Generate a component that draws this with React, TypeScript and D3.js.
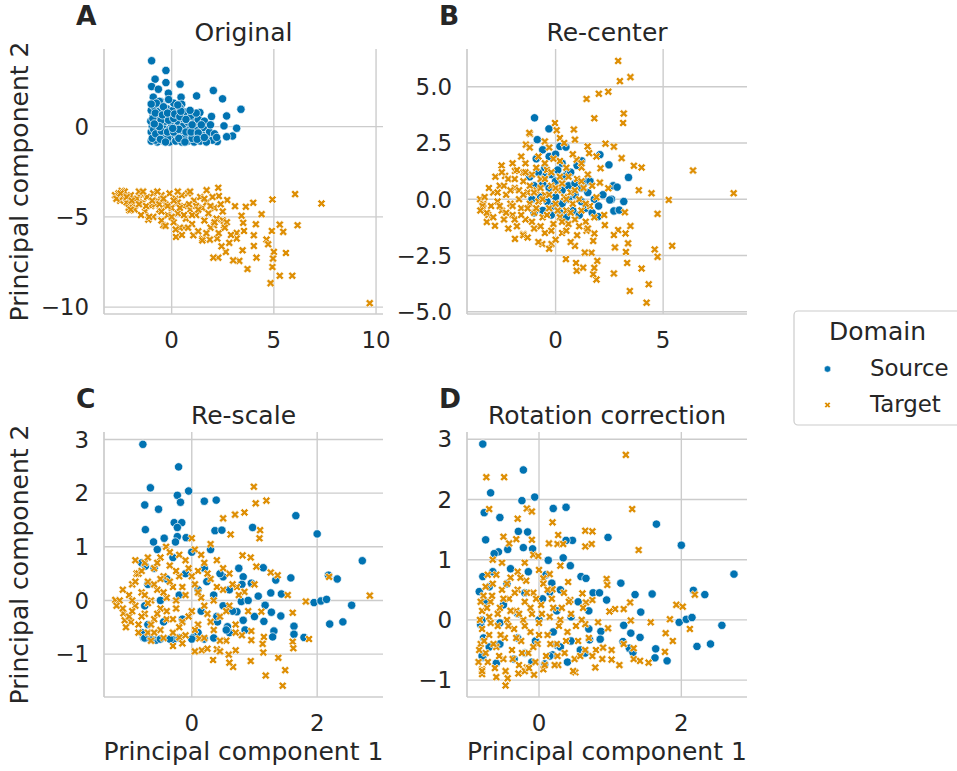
import React from "react";
import * as d3 from "d3";

type Pt = [number, number];

// ---------------- DATA ----------------
const domains = ["Source", "Target"];
const panelTitles = ["Original", "Re-center", "Re-scale", "Rotation correction"];
const panelLetters = ["A", "B", "C", "D"];
const xLabel = "Principal component 1";
const yLabel = "Principal component 2";

const ticksA_x = [0, 5, 10];
const ticksA_y = [-10, -5, 0];
const ticksB_x = [0, 5];
const ticksB_y = [-5, -2.5, 0, 2.5, 5];
const ticksC_x = [0, 2];
const ticksC_y = [-1, 0, 1, 2, 3];
const ticksD_x = [0, 2];
const ticksD_y = [-1, 0, 1, 2, 3];

const originalSource: Pt[] = [
  [-0.98, 3.65], [-0.28, 3.11], [-0.81, 2.63], [-0.28, 2.44], [0.41, 2.35], [-0.98, 2.22], [-0.65, 2.07],
  [-0.16, 1.85], [1.22, 1.7], [2.04, 2.0], [2.49, 1.54], [0.46, 1.63], [-0.9, 1.63], [-0.54, 1.39],
  [0.49, 1.24], [3.39, 0.96], [1.38, 0.78], [1.95, 0.56], [2.69, 0.59], [3.18, -0.09], [2.98, -0.52],
  [2.69, -0.56], [2.56, 0.04], [2.23, -0.83], [2.04, -0.7],
  [-1.0, -0.8], [-0.9, -0.6], [-1.0, -0.3], [-0.95, 0.0], [-1.02, 0.3], [-0.9, 0.6], [-1.0, 0.9], [-0.85, 1.1],
  [-0.7, -0.85], [-0.6, -0.5], [-0.7, -0.2], [-0.65, 0.2], [-0.7, 0.5], [-0.6, 0.85], [-0.5, 1.2],
  [-0.4, -0.8], [-0.35, -0.45], [-0.4, -0.1], [-0.3, 0.3], [-0.35, 0.7], [-0.25, 1.0], [-0.1, -0.85],
  [-0.05, -0.5], [-0.1, -0.15], [0.0, 0.15], [-0.05, 0.55], [0.05, 0.9], [0.2, -0.8], [0.25, -0.4],
  [0.2, -0.05], [0.3, 0.3], [0.25, 0.65], [0.4, 1.05], [0.5, -0.85], [0.55, -0.5], [0.5, -0.2], [0.6, 0.1],
  [0.55, 0.45], [0.7, 0.8], [0.8, -0.8], [0.85, -0.45], [0.9, -0.1], [0.8, 0.25], [0.95, 0.55], [1.1, -0.85],
  [1.15, -0.5], [1.2, -0.15], [1.1, 0.2], [1.3, 0.4], [1.4, -0.8], [1.5, -0.45], [1.55, -0.05], [1.6, 0.3],
  [1.75, -0.7], [1.85, -0.3], [1.9, 0.1], [2.0, -0.75], [2.1, -0.4], [1.2, 0.75], [0.1, 1.3], [-0.6, 1.4],
  [-0.15, 1.5], [0.6, -0.65], [-0.8, -0.75], [-0.2, -0.65], [0.35, -0.65], [1.0, -0.65], [1.7, -0.85],
  [-0.95, -0.65], [-0.88, -0.15], [-0.92, 0.45], [-0.8, 0.75], [-0.75, 1.3], [-0.78, -0.4], [-0.55, -0.7],
  [-0.5, -0.25], [-0.52, 0.35], [-0.45, 0.65], [-0.4, 1.1], [-0.2, -0.3], [-0.15, 0.35], [-0.2, 0.75],
  [0.1, -0.3], [0.1, 0.45], [0.15, 0.7], [0.35, -0.15], [0.4, 0.55], [0.45, 0.85], [0.7, -0.3], [0.7, 0.4],
  [0.65, -0.85], [0.95, -0.3], [1.0, 0.1], [1.3, -0.35], [1.25, -0.7], [1.45, 0.1], [1.6, -0.6], [2.2, -0.6],
  [-1.0, 1.25], [-0.3, -0.85], [0.05, -0.1], [-0.6, 0.0], [0.9, 0.9], [0.3, 1.2], [-0.85, 0.15],
];

const originalTarget: Pt[] = [
  [-2.77, -3.8], [-2.44, -3.56], [-2.52, -4.11], [-2.07, -4.63], [-1.87, -3.98], [-1.42, -3.8], [-1.14, -5.15],
  [-0.41, -5.46], [0.21, -6.11], [2.28, -3.39], [2.31, -3.85], [1.71, -3.52], [4.93, -4.04], [6.04, -3.74],
  [7.33, -4.26], [6.16, -5.46], [5.29, -5.43], [5.46, -5.83], [4.9, -5.78], [3.99, -4.22], [4.4, -4.85],
  [3.63, -4.44], [3.42, -4.94], [3.5, -5.33], [4.12, -5.41], [4.02, -6.02], [3.54, -5.78], [3.18, -5.89],
  [3.18, -6.2], [4.64, -6.26], [4.72, -6.52], [4.02, -6.61], [3.47, -6.85], [5.59, -7.0], [5.0, -6.94],
  [4.96, -7.31], [4.93, -7.78], [5.29, -8.26], [5.9, -8.26], [4.84, -8.67], [3.71, -7.89], [3.31, -7.44],
  [3.01, -7.41], [4.15, -7.26], [2.65, -6.94], [2.28, -7.26], [2.04, -7.26], [2.44, -6.63], [2.82, -6.44],
  [2.23, -6.2], [1.51, -6.2], [1.87, -6.26], [9.69, -9.78], [2.72, -4.07], [3.1, -4.41], [2.5, -5.19],
  [2.56, -5.46], [2.07, -5.46], [1.06, -6.02], [0.62, -5.59],
  [-2.6, -3.7], [-2.4, -3.9], [-2.2, -4.2], [-2.3, -3.6], [-2.0, -3.8], [-1.9, -4.3], [-1.7, -4.0], [-1.8, -4.6],
  [-1.5, -3.7], [-1.4, -4.2], [-1.3, -4.7], [-1.2, -3.9], [-1.0, -4.4], [-0.9, -3.7], [-0.9, -5.0], [-0.7, -4.1],
  [-0.6, -4.6], [-0.5, -3.8], [-0.5, -5.2], [-0.3, -4.3], [-0.2, -4.9], [-0.1, -3.7], [0.0, -4.5], [0.1, -5.3],
  [0.2, -4.0], [0.3, -4.8], [0.4, -5.6], [0.5, -3.8], [0.6, -4.4], [0.7, -5.1], [0.8, -3.7], [0.9, -4.6],
  [1.0, -5.4], [1.1, -4.1], [1.2, -4.9], [1.3, -5.8], [1.4, -3.9], [1.5, -4.5], [1.6, -5.2], [1.7, -4.2],
  [1.8, -4.8], [1.9, -5.6], [2.0, -3.9], [2.1, -4.5], [2.2, -5.1], [2.3, -5.9], [2.5, -4.7], [2.7, -5.3],
  [-2.7, -4.0], [-2.1, -4.5], [-1.1, -5.0], [-0.3, -5.5], [0.5, -6.0], [1.5, -6.3], [-1.6, -3.6], [0.9, -3.6],
  [-0.8, -4.3], [0.3, -4.2], [1.2, -4.4], [2.4, -4.3],
  [-2.5, -3.7], [-2.2, -3.9], [-1.95, -4.1], [-1.6, -4.3], [-1.25, -4.4], [-0.95, -4.1], [-0.6, -4.3],
  [-0.4, -4.0], [-0.2, -4.4], [0.1, -4.1], [0.4, -4.5], [0.6, -4.9], [0.85, -4.3], [1.0, -4.9], [1.3, -4.6],
  [1.6, -4.0], [1.9, -4.4], [2.1, -5.3], [2.6, -5.6], [0.0, -5.0], [-0.5, -4.7], [-1.5, -4.9], [0.8, -5.6],
  [1.7, -5.9], [2.9, -6.0], [-0.7, -3.6], [0.3, -3.6], [-1.4, -3.6], [-2.0, -4.6], [0.2, -5.7],
];

const recenterSource: Pt[] = [
  [-0.98, 3.62], [-0.31, 3.13], [-0.85, 2.65], [0.2, 2.35], [0.48, 2.32], [1.21, 1.71], [2.48, 1.53],
  [2.06, 1.98], [3.39, 0.97], [0.54, 1.13], [2.68, 0.6], [2.86, 0.54], [2.6, 0.0], [2.52, -0.03], [3.17, -0.1],
  [2.71, -0.52], [2.96, -0.48], [1.98, -0.77], [1.44, 0.79], [-0.5, 1.01],
  [-0.9, 1.8], [-0.6, 2.2], [-0.3, 1.9], [0.0, 2.0], [0.3, 1.6], [-0.8, 1.2], [-0.5, 1.4], [-0.2, 1.1],
  [0.1, 1.3], [0.4, 1.0], [0.7, 1.2], [-1.0, 0.6], [-0.6, 0.7], [-0.3, 0.5], [0.0, 0.8], [0.3, 0.4], [0.6, 0.6],
  [0.9, 0.7], [1.2, 0.5], [-1.1, 0.0], [-0.7, 0.1], [-0.4, -0.1], [0.0, 0.1], [0.3, -0.2], [0.6, 0.0],
  [0.9, 0.2], [1.2, -0.1], [1.5, 0.3], [1.8, 0.0], [-1.0, -0.6], [-0.6, -0.5], [-0.2, -0.7], [0.2, -0.6],
  [0.5, -0.8], [0.8, -0.5], [1.1, -0.7], [1.4, -0.4], [1.7, -0.6], [2.0, -0.3], [2.2, 0.2], [1.6, 0.8],
  [1.0, 1.5], [-1.2, 1.0], [-0.1, -0.3],
];

const recenterTarget: Pt[] = [
  [2.91, 6.15], [2.99, 5.25], [3.48, 5.43], [1.44, 4.46], [2.01, 4.69], [2.45, 4.78], [3.17, 3.81], [1.8, 3.6],
  [3.14, 3.39], [-0.03, 3.39], [-1.19, 2.9], [0.85, 3.1], [0.05, 3.07], [2.32, 2.47], [2.71, 2.34], [3.07, 1.83],
  [3.64, 1.49], [4.0, 1.41], [6.39, 1.28], [8.28, 0.27], [5.26, -0.03], [4.46, 0.27], [3.87, 0.4], [4.74, -0.65],
  [3.48, -1.19], [5.42, -2.07], [4.61, -2.23], [4.74, -2.56], [4.0, -3.08], [4.33, -3.78], [4.23, -4.6],
  [3.45, -4.08], [2.71, -3.3], [3.33, -2.83], [3.27, -2.34], [3.37, -1.96], [2.76, -2.14], [3.25, -1.52],
  [2.91, -1.37], [2.71, -1.59], [1.94, -2.74], [1.9, -3.57], [1.75, -3.33], [1.8, -3.05], [0.98, -3.18],
  [1.28, -3.04], [0.95, -2.83], [0.48, -2.66], [1.67, -2.38], [1.36, -2.37], [0.9, -2.07], [1.75, -1.85],
  [1.8, -1.52], [1.44, -1.4], [-0.62, -1.99], [-0.19, -1.99], [-1.89, -1.76], [-1.5, -1.55], [-2.82, -1.18],
  [-3.2, -1.01], [-3.13, -0.7], [-3.51, 0.0], [-3.36, -0.21], [-2.51, 1.5], [-2.35, 1.04], [-1.89, 1.26],
  [-1.5, 1.19], [-1.22, 2.95], [-1.38, 2.43], [-0.5, 2.57], [0.2, 2.72], [0.9, 2.65], [1.49, 2.35], [1.56, 2.05],
  [1.9, 1.9], [2.09, 1.38], [1.21, 1.41], [0.98, 1.76], [2.06, 0.74], [2.45, 0.49], [1.9, 0.09], [2.26, -0.7],
  [2.29, -1.15], [3.22, -0.58],
  [-3.3, 0.1], [-3.0, -0.3], [-3.2, -0.6], [-2.9, 0.3], [-2.7, -0.1], [-2.6, 0.6], [-2.5, -0.5], [-2.4, -0.9],
  [-2.3, 0.2], [-2.2, 0.9], [-2.1, -0.2], [-2.0, -0.7], [-1.9, 0.5], [-1.8, 1.3], [-1.8, -1.2], [-1.7, 0.0],
  [-1.6, -0.4], [-1.5, 0.8], [-1.4, 1.6], [-1.4, -0.9], [-1.3, 0.3], [-1.2, -0.2], [-1.1, 1.1], [-1.0, -0.6],
  [-1.0, -1.3], [-0.9, 0.4], [-0.8, 1.9], [-0.8, -0.1], [-0.7, 0.9], [-0.6, -0.8], [-0.5, -1.5], [-0.5, 0.2],
  [-0.4, 1.3], [-0.3, -0.4], [-0.2, 0.6], [-0.1, -1.1], [-0.1, 1.8], [0.0, -0.2], [0.1, 0.4], [0.2, -0.8],
  [0.2, 1.0], [0.3, -1.5], [0.4, 0.1], [0.5, -0.5], [0.5, 1.4], [0.6, -1.1], [0.7, 0.3], [0.8, -0.2], [0.8, 2.0],
  [0.9, -0.9], [1.0, 0.9], [1.0, -1.6], [1.1, 0.0], [1.2, -0.5], [1.3, 0.5], [1.4, -1.0], [1.5, 1.1], [1.6, -0.3],
  [1.7, 0.6], [1.8, -0.8], [-2.8, 1.0], [-2.0, 1.6], [-1.2, 2.3], [-0.3, 2.3], [0.4, 2.5], [-2.2, -1.3],
  [-1.5, -1.6], [-0.8, -1.9], [0.0, -1.8], [0.7, -1.9],
  [-3.4, -0.3], [-3.1, 0.5], [-2.9, -0.8], [-2.7, 0.3], [-2.6, -0.3], [-2.4, 0.6], [-2.3, -0.6], [-2.1, 0.4],
  [-2.0, -0.3], [-1.9, 0.9], [-1.9, -0.9], [-1.7, 0.4], [-1.6, -0.7], [-1.5, 0.2], [-1.4, 1.2], [-1.3, -0.4],
  [-1.2, 0.6], [-1.1, -1.0], [-1.0, 0.3], [-0.9, 1.4], [-0.9, -0.4], [-0.7, 0.5], [-0.7, -1.2], [-0.6, 0.0],
  [-0.5, 0.9], [-0.4, -0.7], [-0.3, 0.2], [-0.2, 1.2], [-0.2, -1.4], [0.0, 0.5], [0.1, -0.5], [0.3, 0.7],
  [0.3, -1.0], [0.5, 0.0], [0.6, 1.0], [0.7, -0.6], [0.9, 0.4], [1.1, -1.2], [1.2, 0.8], [1.4, -0.2],
  [-2.5, 1.2], [-1.6, 1.9], [-0.5, 1.6], [0.2, 1.7], [1.2, 1.6], [-1.3, -1.7], [-0.3, -2.2], [0.5, -1.4],
  [1.5, -1.3], [-3.5, -0.5],
];

const rescaleSource: Pt[] = [
  [-0.78, 2.91], [-0.21, 2.49], [-0.66, 2.1], [-0.05, 2.04], [-0.23, 1.96], [-0.18, 1.83], [-0.75, 1.78],
  [-0.53, 1.7], [0.2, 1.85], [0.39, 1.87], [1.66, 1.58], [2.0, 1.24], [-0.74, 1.32], [-0.28, 1.45],
  [-0.16, 1.45], [-0.23, 1.36], [0.37, 1.3], [0.48, 1.31], [0.97, 1.36], [-0.61, 1.09], [-0.44, 1.16],
  [-0.23, 1.19], [-0.26, 1.09], [-0.09, 1.17], [2.72, 0.74], [2.32, 0.4], [2.18, 0.47], [1.58, 0.42],
  [1.14, 0.61], [0.95, 0.32], [1.34, 0.38], [1.06, 0.08], [1.26, 0.14], [1.43, 0.12], [1.95, -0.04],
  [2.06, -0.01], [2.15, 0.02], [2.55, -0.09], [2.2, -0.44], [2.41, -0.4], [1.63, -0.48], [1.63, -0.63],
  [1.79, -0.69], [1.42, -0.29], [1.27, -0.22], [1.31, -0.57], [1.29, -0.68], [1.17, -0.09], [1.15, -0.39],
  [0.79, -0.02], [0.5, -0.1], [0.5, 0.44], [0.82, 0.44], [0.24, 0.35], [-0.8, 0.7], [-0.74, 0.64],
  [-0.77, -0.69], [-0.57, -0.74], [-0.8, -0.6], [-0.29, -0.73], [0.03, -0.68], [0.41, -0.4], [0.57, -0.49],
  [0.82, -0.37], [0.72, -0.21],
  [-0.75, -0.7], [-0.7, -0.45], [-0.75, -0.1], [-0.7, 0.3], [-0.6, 0.6], [-0.5, -0.72], [-0.45, -0.4],
  [-0.5, 0.0], [-0.4, 0.4], [-0.3, 0.8], [-0.2, -0.7], [-0.15, -0.35], [-0.2, 0.1], [-0.1, 0.5], [0.0, 0.9],
  [0.1, -0.6], [0.15, -0.2], [0.1, 0.2], [0.2, 0.6], [0.35, -0.7], [0.4, -0.3], [0.35, 0.1], [0.45, 0.5],
  [0.6, -0.6], [0.65, -0.2], [0.6, 0.2], [0.75, 0.6], [0.85, -0.55], [0.9, 0.0], [-0.65, -0.72], [-0.35, -0.72],
  [0.0, -0.72], [0.2, -0.72], [0.55, -0.55], [0.3, 0.95], [-0.55, 0.95], [1.0, -0.3], [0.8, 0.3],
];

const rescaleTarget: Pt[] = [
  [0.99, 2.12], [1.19, 1.86], [1.02, 1.81], [0.84, 1.64], [0.69, 1.6], [0.5, 1.53], [0.62, 1.23], [1.09, 1.31],
  [1.08, 1.16], [0.0, 1.16], [0.3, 1.05], [-0.41, 1.0], [0.81, 0.84], [0.94, 0.8], [1.03, 0.63], [1.26, 0.52],
  [1.37, 0.47], [2.19, 0.44], [2.84, 0.09], [1.82, -0.02], [1.53, 0.1], [1.61, -0.23], [1.87, -0.72],
  [1.61, -0.77], [1.62, -0.89], [1.38, -1.07], [1.49, -1.3], [1.45, -1.59], [1.18, -1.4], [0.94, -1.13],
  [0.66, -1.24], [0.6, -1.16], [0.34, -1.11], [0.16, -0.93], [1.14, -0.97], [1.13, -0.81], [1.15, -0.68],
  [0.95, -0.74], [0.95, -0.57], [1.11, -0.21], [0.84, 0.16], [0.72, 0.25], [0.7, -0.93], [0.59, -1.01],
  [0.4, -0.91], [-1.22, 0.01], [-1.09, -0.24], [-1.07, -0.37], [-0.97, -0.4], [-0.88, 0.5], [-0.2, -0.69],
  [0.12, -0.71],
  [-1.15, 0.0], [-1.1, -0.15], [-1.0, 0.1], [-1.0, -0.3], [-0.95, 0.3], [-0.9, -0.1], [-0.85, -0.45],
  [-0.85, 0.5], [-0.8, 0.15], [-0.75, -0.25], [-0.75, 0.7], [-0.7, -0.6], [-0.7, 0.35], [-0.65, 0.0],
  [-0.6, -0.35], [-0.6, 0.6], [-0.55, 0.2], [-0.5, -0.15], [-0.5, -0.55], [-0.5, 0.8], [-0.45, 0.45],
  [-0.4, 0.05], [-0.4, -0.35], [-0.35, 0.65], [-0.3, -0.6], [-0.3, 0.25], [-0.25, -0.15], [-0.2, 0.85],
  [-0.2, 0.45], [-0.15, -0.4], [-0.1, 0.1], [-0.1, -0.65], [-0.05, 0.6], [0.0, -0.2], [0.05, 0.3], [0.05, 0.95],
  [0.1, -0.45], [0.15, 0.05], [0.2, 0.7], [0.2, -0.7], [0.25, -0.25], [0.3, 0.4], [0.35, 0.0], [0.35, -0.55],
  [0.4, 0.75], [0.45, -0.3], [0.5, 0.2], [0.55, -0.75], [0.6, 0.5], [0.6, -0.1], [0.7, -0.45], [0.75, 0.1],
  [-0.9, 0.75], [-0.65, -0.75], [0.1, 0.55], [-0.3, -0.85], [0.45, -0.95], [0.8, -0.65],
  [-1.2, -0.1], [-1.1, 0.2], [-1.05, -0.5], [-0.95, 0.0], [-0.95, -0.2], [-0.9, 0.35], [-0.85, -0.6],
  [-0.8, 0.55], [-0.8, -0.3], [-0.75, 0.1], [-0.7, -0.05], [-0.7, 0.8], [-0.65, -0.45], [-0.6, 0.3],
  [-0.55, -0.25], [-0.55, 0.7], [-0.5, 0.4], [-0.45, -0.7], [-0.45, 0.15], [-0.4, -0.2], [-0.35, 0.9],
  [-0.35, 0.35], [-0.3, -0.35], [-0.25, 0.55], [-0.25, 0.0], [-0.2, -0.5], [-0.15, 0.25], [-0.1, 0.75],
  [-0.05, -0.3], [0.0, 0.45], [0.05, -0.55], [0.1, 0.15], [0.15, 0.85], [0.2, -0.1], [0.25, 0.5], [0.3, -0.4],
  [0.4, 0.25], [0.45, -0.75], [0.5, 0.6], [0.55, -0.2], [0.65, 0.3], [0.7, -0.6], [0.05, -0.95], [-0.15, -0.8],
  [0.25, -0.9], [-0.6, -0.6], [0.9, -0.2], [1.0, 0.3],
];

const rotationSource: Pt[] = [
  [-0.79, 2.92], [-0.22, 2.49], [-0.68, 2.11], [-0.06, 2.04], [-0.24, 1.98], [0.2, 1.85], [0.38, 1.87],
  [1.65, 1.59], [2.0, 1.24], [-0.77, 1.78], [-0.55, 1.7], [-0.75, 1.33], [-0.29, 1.47], [-0.16, 1.46],
  [-0.22, 1.2], [0.97, 1.37], [0.47, 1.32], [0.38, 1.32], [-0.57, 1.13], [-0.63, 1.1], [-0.44, 1.17],
  [-0.09, 1.18], [0.34, 1.03], [0.13, 0.99], [0.44, 0.9], [2.74, 0.76], [2.33, 0.42], [2.17, 0.49],
  [1.59, 0.43], [1.35, 0.42], [1.15, 0.61], [0.95, 0.33], [0.59, 0.72], [0.66, 0.69], [1.43, 0.13],
  [1.97, -0.04], [2.07, 0.01], [2.15, 0.04], [2.57, -0.09], [2.22, -0.44], [2.41, -0.4], [1.64, -0.48],
  [1.63, -0.63], [1.8, -0.68], [1.42, -0.29], [1.29, -0.22], [1.27, -0.47], [1.32, -0.54], [1.19, -0.09],
  [1.18, -0.36], [0.87, -0.19], [0.86, -0.32], [0.7, 0.15], [0.76, 0.45], [0.85, 0.45], [0.18, 0.61],
  [0.15, 0.46], [-0.84, 0.47], [-0.79, 0.72], [-0.82, -0.08], [-0.79, -0.62], [0.08, -0.73], [0.19, -0.58],
  [0.25, -0.42], [0.58, -0.5], [0.71, -0.33],
  [-0.8, -0.6], [-0.78, -0.3], [-0.8, 0.0], [-0.75, 0.3], [-0.7, 0.55], [-0.6, -0.72], [-0.55, -0.4],
  [-0.55, -0.05], [-0.5, 0.25], [-0.45, 0.6], [-0.35, -0.65], [-0.3, -0.3], [-0.3, 0.1], [-0.2, 0.45],
  [-0.15, 0.8], [-0.1, -0.7], [-0.05, -0.35], [0.0, 0.0], [0.05, 0.35], [0.15, -0.6], [0.2, -0.2], [0.25, 0.15],
  [0.3, 0.5], [0.4, -0.7], [0.45, -0.35], [0.45, 0.05], [0.55, 0.3], [0.65, -0.55], [0.7, -0.15], [-0.65, 0.8],
  [-0.4, 0.85], [0.1, 0.75], [-0.7, -0.45], [-0.2, -0.55], [0.3, -0.45],
];

const rotationTarget: Pt[] = [
  [1.22, 2.74], [-0.74, 2.37], [-0.49, 2.37], [-0.7, 1.84], [-0.17, 1.85], [-0.1, 1.8], [1.31, 1.84],
  [-0.3, 1.68], [0.19, 1.62], [0.65, 1.48], [0.75, 1.47], [0.27, 1.41], [-0.5, 1.38], [-0.32, 1.34],
  [-0.1, 1.33], [0.14, 1.27], [0.26, 1.26], [0.34, 1.26], [0.65, 1.22], [0.74, 1.26], [1.4, 1.16],
  [-0.42, 1.27], [-0.08, 1.08], [-0.01, 1.06], [-0.52, 0.95], [0.3, 0.9], [0.0, 0.83], [0.15, 0.76],
  [0.06, 0.69], [0.95, 0.68], [0.96, 0.58], [0.41, 0.63], [0.61, 0.44], [0.44, 0.33], [0.75, 0.33],
  [0.66, 0.29], [0.19, 0.51], [1.93, 0.25], [2.02, 0.22], [2.19, 0.42], [1.28, 0.29], [1.19, 0.18],
  [1.07, 0.18], [0.99, 0.14], [1.29, -0.01], [1.57, -0.04], [1.84, 0.01], [2.12, -0.15], [1.78, -0.22],
  [1.88, -0.35], [1.77, -0.53], [1.54, -0.71], [1.42, -0.68], [1.33, -0.65], [1.13, -0.75], [1.02, -0.66],
  [0.89, -0.65], [0.79, -0.79], [1.19, -0.4], [1.33, -0.47], [1.02, -0.5], [0.9, -0.46], [0.8, -0.5],
  [0.97, -0.14], [0.83, -0.04], [0.65, -0.07], [0.51, -0.87], [0.27, -0.75], [0.06, -0.82], [-0.07, -0.91],
  [-0.29, -0.89], [-0.44, -0.97], [-0.47, -1.09], [-0.8, -0.82], [-0.8, -0.9], [-0.17, -0.79],
  [-0.85, -0.7], [-0.82, -0.4], [-0.8, -0.15], [-0.8, 0.15], [-0.78, 0.4], [-0.75, -0.55], [-0.7, -0.25],
  [-0.7, 0.05], [-0.68, 0.3], [-0.65, 0.6], [-0.62, -0.8], [-0.6, -0.45], [-0.58, -0.1], [-0.55, 0.2],
  [-0.52, 0.5], [-0.5, -0.65], [-0.48, -0.3], [-0.45, 0.0], [-0.42, 0.35], [-0.4, 0.7], [-0.38, -0.5],
  [-0.35, -0.15], [-0.32, 0.15], [-0.3, 0.5], [-0.28, -0.75], [-0.25, -0.35], [-0.22, 0.0], [-0.2, 0.3],
  [-0.18, 0.65], [-0.15, -0.55], [-0.12, -0.2], [-0.1, 0.1], [-0.08, 0.45], [-0.05, -0.7], [-0.02, -0.4],
  [0.0, -0.05], [0.03, 0.25], [0.06, 0.6], [0.1, -0.6], [0.12, -0.25], [0.15, 0.05], [0.18, 0.35],
  [0.22, -0.75], [0.25, -0.4], [0.28, -0.1], [0.32, 0.2], [0.36, -0.55], [0.4, -0.2], [0.45, 0.1],
  [0.5, -0.65], [0.55, -0.35], [0.6, 0.0], [0.65, -0.5], [-0.72, 0.75], [-0.3, 0.8], [-0.6, -0.95],
  [-0.2, -0.85], [0.35, 0.45],
  [-0.84, -0.5], [-0.83, 0.0], [-0.82, 0.3], [-0.8, -0.85], [-0.77, -0.35], [-0.75, 0.55], [-0.73, 0.2],
  [-0.72, -0.7], [-0.68, -0.05], [-0.66, 0.4], [-0.64, -0.4], [-0.6, 0.75], [-0.58, 0.1], [-0.56, -0.6],
  [-0.54, -0.25], [-0.5, 0.35], [-0.47, -0.85], [-0.45, 0.6], [-0.43, -0.1], [-0.4, 0.15], [-0.37, -0.65],
  [-0.34, 0.45], [-0.32, -0.3], [-0.28, 0.1], [-0.26, 0.7], [-0.24, -0.55], [-0.2, -0.1], [-0.17, 0.45],
  [-0.14, -0.8], [-0.12, 0.2], [-0.08, -0.45], [-0.04, 0.35], [0.0, -0.25], [0.04, 0.1], [0.08, -0.75],
  [0.12, 0.5], [0.16, -0.4], [0.2, 0.2], [0.26, -0.6], [0.3, 0.0], [0.38, -0.35], [0.42, 0.3], [0.48, -0.85],
  [0.52, -0.1], [0.58, -0.6], [0.62, 0.2], [0.7, -0.3], [0.75, -0.6], [-0.65, 1.0], [-0.2, 0.95],
];

// ---------------- STYLE / LAYOUT ----------------
const W = 957;
const H = 771;
const FONT = "'DejaVu Sans', sans-serif";
const TEXT = "#262626";
const GRID = "#cccccc";
const COLORS = ["#0173b2", "#de8f05"];
const TICK_FS = 22.9;
const LABEL_FS = 25;

interface PanelCfg {
  left: number; top: number; width: number; height: number;
  xDomain: [number, number]; yDomain: [number, number];
  xTicks: number[]; yTicks: number[]; xFmt: string; yFmt: string;
  source: Pt[]; target: Pt[];
  yLab: boolean; xLab: boolean;
}

const panels: PanelCfg[] = [
  { left: 104, top: 49, width: 279, height: 265, xDomain: [-3.31, 10.34], yDomain: [-10.38, 4.3],
    xTicks: ticksA_x, yTicks: ticksA_y, xFmt: "d", yFmt: "d", source: originalSource, target: originalTarget, yLab: true, xLab: false },
  { left: 467, top: 49, width: 280, height: 265, xDomain: [-4.12, 8.9], yDomain: [-5.1, 6.68],
    xTicks: ticksB_x, yTicks: ticksB_y, xFmt: "d", yFmt: ".1f", source: recenterSource, target: recenterTarget, yLab: false, xLab: false },
  { left: 104, top: 432, width: 279, height: 265, xDomain: [-1.4, 3.05], yDomain: [-1.8, 3.14],
    xTicks: ticksC_x, yTicks: ticksC_y, xFmt: "d", yFmt: "d", source: rescaleSource, target: rescaleTarget, yLab: true, xLab: true },
  { left: 467, top: 432, width: 280, height: 265, xDomain: [-1.012, 2.923], yDomain: [-1.28, 3.12],
    xTicks: ticksD_x, yTicks: ticksD_y, xFmt: "d", yFmt: "d", source: rotationSource, target: rotationTarget, yLab: false, xLab: true },
];

function xMarkerPath(size: number): string {
  const base: Pt[] = [[-1, -3], [1, -3], [1, -1], [3, -1], [3, 1], [1, 1], [1, 3], [-1, 3], [-1, 1], [-3, 1], [-3, -1], [-1, -1]];
  const s = size / 6;
  const r = Math.SQRT1_2;
  const pts = base.map(([x, y]) => [(x - y) * r * s, (x + y) * r * s] as Pt);
  return d3.line()(pts) + "Z";
}

const CIRCLE_R = 4.17;
const X_SIZE = 8.6;
const xPath = xMarkerPath(X_SIZE);
const xPathLegend = xMarkerPath(6.4);

function Panel({ cfg, idx }: { cfg: PanelCfg; idx: number }) {
  const x = d3.scaleLinear().domain(cfg.xDomain).range([cfg.left, cfg.left + cfg.width]);
  const y = d3.scaleLinear().domain(cfg.yDomain).range([cfg.top + cfg.height, cfg.top]);
  const fx = d3.format(cfg.xFmt);
  const fy = d3.format(cfg.yFmt);
  const bottom = cfg.top + cfg.height;
  const right = cfg.left + cfg.width;
  const cx = cfg.left + cfg.width / 2;
  const cy = cfg.top + cfg.height / 2;
  return (
    <g>
      {cfg.xTicks.map((t) => (
        <line key={"gx" + t} x1={x(t)} x2={x(t)} y1={cfg.top} y2={bottom} stroke={GRID} strokeWidth={1.4} />
      ))}
      {cfg.yTicks.map((t) => (
        <line key={"gy" + t} x1={cfg.left} x2={right} y1={y(t)} y2={y(t)} stroke={GRID} strokeWidth={1.4} />
      ))}
      <line x1={cfg.left} x2={cfg.left} y1={cfg.top} y2={bottom} stroke={GRID} strokeWidth={1.7} />
      <line x1={cfg.left} x2={right} y1={bottom} y2={bottom} stroke={GRID} strokeWidth={1.7} />
      {cfg.xTicks.map((t) => (
        <text key={"tx" + t} x={x(t)} y={bottom + 34} textAnchor="middle" fontSize={TICK_FS} fill={TEXT}>{fx(t)}</text>
      ))}
      {cfg.yTicks.map((t) => (
        <text key={"ty" + t} x={cfg.left - 15} y={y(t)} dy="0.36em" textAnchor="end" fontSize={TICK_FS} fill={TEXT}>{fy(t)}</text>
      ))}
      <g>
        {cfg.source.map((p, i) => (
          <circle key={"s" + i} cx={x(p[0])} cy={y(p[1])} r={CIRCLE_R} fill={COLORS[0]} stroke="#ffffff" strokeWidth={0.7} />
        ))}
        {cfg.target.map((p, i) => (
          <path key={"t" + i} d={xPath} transform={`translate(${x(p[0])},${y(p[1])})`} fill={COLORS[1]} stroke="#ffffff" strokeWidth={0.7} />
        ))}
      </g>
      <text x={cx} y={cfg.top - 8} textAnchor="middle" fontSize={LABEL_FS} fill={TEXT}>{panelTitles[idx]}</text>
      <text x={cfg.left - 28} y={cfg.top - 24.4} fontSize={26.5} fontWeight="bold" fill={TEXT}>{panelLetters[idx]}</text>
      {cfg.yLab && (
        <text transform={`translate(27.5,${cy}) rotate(-90)`} textAnchor="middle" fontSize={LABEL_FS} fill={TEXT}>{yLabel}</text>
      )}
      {cfg.xLab && (
        <text x={cx} y={bottom + 63} textAnchor="middle" fontSize={LABEL_FS} fill={TEXT}>{xLabel}</text>
      )}
    </g>
  );
}

function Legend() {
  const rowY = [369, 405];
  return (
    <g>
      <rect x={794} y={311} width={168} height={114} rx={4} ry={4} fill="#ffffff" fillOpacity={0.8} stroke={GRID} strokeWidth={1.2} />
      <text x={877.5} y={339.5} textAnchor="middle" fontSize={LABEL_FS} fill={TEXT}>Domain</text>
      {domains.map((d, i) => (
        <g key={d}>
          {i === 0 ? (
            <circle cx={827.5} cy={rowY[i]} r={3.2} fill={COLORS[0]} stroke="#ffffff" strokeWidth={0.5} />
          ) : (
            <path d={xPathLegend} transform={`translate(827.5,${rowY[i]})`} fill={COLORS[1]} stroke="#ffffff" strokeWidth={0.5} />
          )}
          <text x={870} y={rowY[i] + 6.5} fontSize={TICK_FS} fill={TEXT}>{d}</text>
        </g>
      ))}
    </g>
  );
}

export default function App() {
  return (
    <div style={{ position: "absolute", left: 0, top: 0, width: W, height: H, background: "#ffffff" }}>
      <svg width={W} height={H} style={{ display: "block", fontFamily: FONT }}>
        <rect x={0} y={0} width={W} height={H} fill="#ffffff" />
        {panels.map((p, i) => (
          <Panel key={i} cfg={p} idx={i} />
        ))}
        <Legend />
      </svg>
    </div>
  );
}
